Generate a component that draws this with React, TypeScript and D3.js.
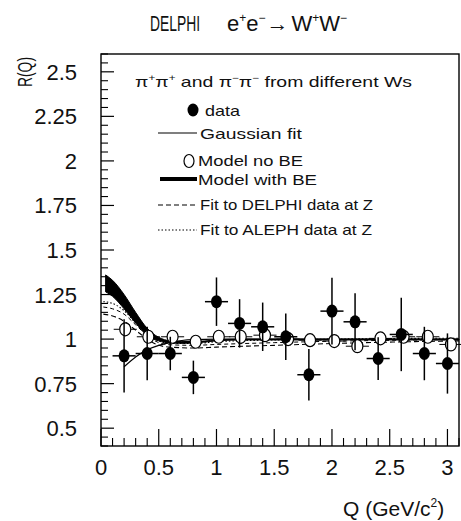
import React from "react";
import * as d3 from "d3";

// ---- data ----
const qBins = [0.2, 0.4, 0.6, 0.8, 1.0, 1.2, 1.4, 1.6, 1.8, 2.0, 2.2, 2.4, 2.6, 2.8, 3.0];
const dataR = [0.906, 0.919, 0.919, 0.785, 1.21, 1.088, 1.069, 1.013, 0.8, 1.157, 1.097, 0.891, 1.026, 0.919, 0.863];
const dataErr = [0.206, 0.15, 0.094, 0.094, 0.136, 0.136, 0.136, 0.131, 0.145, 0.187, 0.16, 0.12, 0.206, 0.15, 0.169];
const qBinHalf = 0.1;

const modelQ = [0.21, 0.41, 0.62, 0.82, 1.02, 1.21, 1.42, 1.62, 1.81, 2.02, 2.22, 2.42, 2.62, 2.83, 3.03];
const modelR = [1.055, 1.013, 1.013, 0.985, 1.013, 1.013, 1.022, 1.0, 0.994, 0.989, 0.96, 1.004, 1.013, 1.013, 0.97];
const modelErr = [0.03, 0.02, 0.02, 0.02, 0.02, 0.02, 0.03, 0.02, 0.02, 0.02, 0.03, 0.02, 0.02, 0.03, 0.03];

const gaussQ = [0.2, 0.3, 0.4, 0.5, 0.6, 0.7, 0.8, 1.0, 1.5, 2.0, 2.5, 3.1];
const gaussR = [0.845, 0.9, 0.94, 0.965, 0.982, 0.992, 0.997, 1.0, 1.0, 1.0, 1.0, 1.0];

const beQ = [0.04, 0.1, 0.2, 0.3, 0.4, 0.5, 0.6, 0.7, 0.8, 1.0, 1.2, 1.5, 2.0, 2.5, 3.1];
const beUpper = [1.36, 1.33, 1.25, 1.15, 1.06, 1.01, 0.99, 0.986, 0.986, 0.995, 1.0, 1.0, 1.0, 1.0, 1.0];
const beLower = [1.265, 1.24, 1.17, 1.09, 1.02, 0.99, 0.978, 0.976, 0.978, 0.99, 0.995, 0.995, 0.995, 0.995, 0.995];

const delphiZQ = [0.02, 0.1, 0.2, 0.3, 0.4, 0.5, 0.6, 0.8, 1.0, 1.5, 2.0, 2.5, 3.1];
const delphiZR = [1.14, 1.13, 1.1, 1.05, 1.0, 0.965, 0.955, 0.95, 0.955, 0.965, 0.975, 0.983, 0.99];
const delphiZUpperR = [1.18, 1.17, 1.14, 1.08, 1.02, 0.98, 0.968, 0.965, 0.97, 0.98, 0.988, 0.993, 0.997];

const alephZQ = [0.02, 0.1, 0.2, 0.3, 0.4, 0.5, 0.6, 0.8, 1.0, 1.5, 2.0, 2.5, 3.1];
const alephZR = [1.21, 1.2, 1.16, 1.09, 1.03, 0.99, 0.975, 0.975, 0.985, 0.995, 1.0, 1.003, 1.005];

const xTicks = [0, 0.5, 1, 1.5, 2, 2.5, 3];
const xTickLabels = ["0", "0.5", "1", "1.5", "2", "2.5", "3"];
const yTicks = [0.5, 0.75, 1, 1.25, 1.5, 1.75, 2, 2.25, 2.5];
const yTickLabels = ["0.5", "0.75", "1", "1.25", "1.5", "1.75", "2", "2.25", "2.5"];

const FONT = "'Liberation Sans', Arial, sans-serif";

export default function App() {
  const left = 101, right = 459, top = 54, bottom = 446;
  const x = d3.scaleLinear().domain([0, 3.1]).range([left, right]);
  const y = d3.scaleLinear().domain([0.4, 2.6]).range([bottom, top]);

  const line = d3.line<[number, number]>().x(d => x(d[0])).y(d => y(d[1])).curve(d3.curveMonotoneX);
  const area = d3.area<number>()
    .x((_, i) => x(beQ[i]))
    .y0((_, i) => y(beLower[i]))
    .y1((_, i) => y(beUpper[i]))
    .curve(d3.curveMonotoneX);

  const zip = (a: number[], b: number[]) => a.map((v, i) => [v, b[i]] as [number, number]);

  const xMinor = d3.range(0, 3.1001, 0.1).filter(v => Math.abs(v / 0.5 - Math.round(v / 0.5)) > 1e-6);
  const yMinor = d3.range(0.4, 2.6001, 0.05).filter(v => Math.abs(v / 0.25 - Math.round(v / 0.25)) > 1e-6);

  return (
    <svg width={461} height={521} style={{ position: "absolute", left: 0, top: 0, background: "#fff" }} fontFamily={FONT}>
      <rect x={0} y={0} width={461} height={521} fill="#fff" />
      {/* title */}
      <text transform="translate(150,31) scale(0.63,1)" fontSize={22} fill="#111">DELPHI</text>
      <text x={227} y={31} fontSize={22} fill="#111">
        e<tspan baselineShift="9" fontSize={12}>+</tspan>e<tspan baselineShift="9" fontSize={12}>−</tspan>
        <tspan dx={1}>→</tspan><tspan dx={3}>W</tspan><tspan baselineShift="9" fontSize={12}>+</tspan>W<tspan baselineShift="9" fontSize={12}>−</tspan>
      </text>

      {/* frame */}
      <rect x={left} y={top} width={right - left} height={bottom - top} fill="none" stroke="#000" strokeWidth={1.4} />

      {/* x ticks */}
      {xTicks.map(t => (
        <line key={"xt" + t} x1={x(t)} x2={x(t)} y1={bottom} y2={bottom - 17} stroke="#000" strokeWidth={1.2} />
      ))}
      {xMinor.map(t => (
        <line key={"xm" + t} x1={x(t)} x2={x(t)} y1={bottom} y2={bottom - 8} stroke="#000" strokeWidth={1.1} />
      ))}
      {xTicks.map((t, i) => (
        <text key={"xl" + t} x={x(t)} y={475} fontSize={22} textAnchor="middle" fill="#111">{xTickLabels[i]}</text>
      ))}
      {/* y ticks */}
      {yTicks.map(t => (
        <line key={"yt" + t} x1={left} x2={left + 13} y1={y(t)} y2={y(t)} stroke="#000" strokeWidth={1.2} />
      ))}
      {yMinor.map(t => (
        <line key={"ym" + t} x1={left} x2={left + 7} y1={y(t)} y2={y(t)} stroke="#000" strokeWidth={1.1} />
      ))}
      {yTicks.map((t, i) => (
        <text key={"yl" + t} x={77} y={y(t) + 8} fontSize={22} textAnchor="end" fill="#111">{yTickLabels[i]}</text>
      ))}

      {/* axis titles */}
      <text transform="translate(32,57) rotate(-90)" fontSize={20} textAnchor="end" fill="#111" textLength={30} lengthAdjust="spacingAndGlyphs">R(Q)</text>
      <text x={343} y={516} fontSize={21} fill="#111">
        Q (GeV/c<tspan dy={-9} fontSize={12}>2</tspan><tspan dy={9}>)</tspan>
      </text>

      {/* curves */}
      <path d={area(beQ) || ""} fill="#000" stroke="#000" strokeWidth={1} />
      <path d={line(zip(gaussQ, gaussR)) || ""} fill="none" stroke="#000" strokeWidth={1.2} />
      <path d={line(zip(delphiZQ, delphiZR)) || ""} fill="none" stroke="#000" strokeWidth={1.1} strokeDasharray="5,3" />
      <path d={line(zip(delphiZQ, delphiZUpperR)) || ""} fill="none" stroke="#000" strokeWidth={1} strokeDasharray="4,3" />
      <path d={line(zip(alephZQ, alephZR)) || ""} fill="none" stroke="#000" strokeWidth={1.1} strokeDasharray="1.5,2" />

      {/* model no BE */}
      {modelQ.map((q, i) => (
        <g key={"m" + i}>
          <line x1={x(q - qBinHalf)} x2={x(q + qBinHalf)} y1={y(modelR[i])} y2={y(modelR[i])} stroke="#000" strokeWidth={1} />
          <line x1={x(q)} x2={x(q)} y1={y(modelR[i] - modelErr[i])} y2={y(modelR[i] + modelErr[i])} stroke="#000" strokeWidth={1} />
          <ellipse cx={x(q)} cy={y(modelR[i])} rx={5.5} ry={6.5} fill="#fff" stroke="#000" strokeWidth={1.2} />
        </g>
      ))}

      {/* data */}
      {qBins.map((q, i) => (
        <g key={"d" + i}>
          <line x1={x(q - qBinHalf)} x2={x(q + qBinHalf)} y1={y(dataR[i])} y2={y(dataR[i])} stroke="#000" strokeWidth={1.5} />
          <line x1={x(q)} x2={x(q)} y1={y(dataR[i] - dataErr[i])} y2={y(dataR[i] + dataErr[i])} stroke="#000" strokeWidth={1.5} />
          <ellipse cx={x(q)} cy={y(dataR[i])} rx={5.5} ry={6.5} fill="#000" />
        </g>
      ))}

      {/* legend */}
      <text x={135} y={87} fontSize={15} fill="#111" textLength={277} lengthAdjust="spacingAndGlyphs">
        π<tspan dy={-6} fontSize={9}>+</tspan><tspan dy={6}>π</tspan><tspan dy={-6} fontSize={9}>+</tspan><tspan dy={6}> and π</tspan><tspan dy={-6} fontSize={9}>−</tspan><tspan dy={6}>π</tspan><tspan dy={-6} fontSize={9}>−</tspan><tspan dy={6}> from different Ws</tspan>
      </text>
      <ellipse cx={193} cy={110} rx={5.5} ry={6.5} fill="#000" />
      <text x={205} y={116} fontSize={15} fill="#111" textLength={35} lengthAdjust="spacingAndGlyphs">data</text>
      <line x1={158} x2={197} y1={133} y2={133} stroke="#000" strokeWidth={1.2} />
      <text x={200} y={139} fontSize={15} fill="#111" textLength={102} lengthAdjust="spacingAndGlyphs">Gaussian fit</text>
      <ellipse cx={189} cy={161} rx={5} ry={6.5} fill="#fff" stroke="#000" strokeWidth={1.2} />
      <text x={198} y={166} fontSize={15} fill="#111" textLength={105} lengthAdjust="spacingAndGlyphs">Model no BE</text>
      <line x1={160} x2={197} y1={179} y2={179} stroke="#000" strokeWidth={4} />
      <text x={198} y={185} fontSize={15} fill="#111" textLength={119} lengthAdjust="spacingAndGlyphs">Model with BE</text>
      <line x1={158} x2={197} y1={205} y2={205} stroke="#000" strokeWidth={1.1} strokeDasharray="5,3" />
      <text x={200} y={210} fontSize={15} fill="#111" textLength={173} lengthAdjust="spacingAndGlyphs">Fit to DELPHI data at Z</text>
      <line x1={158} x2={197} y1={230} y2={230} stroke="#000" strokeWidth={1.1} strokeDasharray="1.5,2" />
      <text x={200} y={235} fontSize={15} fill="#111" textLength={172} lengthAdjust="spacingAndGlyphs">Fit to ALEPH data at Z</text>
    </svg>
  );
}
